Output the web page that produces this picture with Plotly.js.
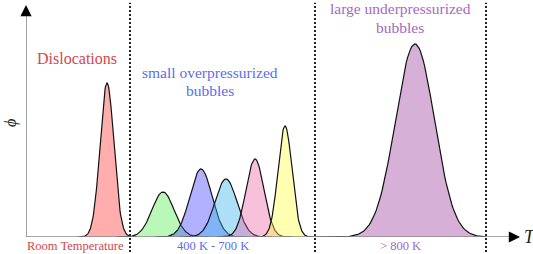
<!DOCTYPE html>
<html><head><meta charset="utf-8">
<script src="https://cdn.plot.ly/plotly-3.0.1.min.js"></script>
<style>html,body{margin:0;padding:0;background:#fff}#chart{width:533px;height:254px}</style>
</head><body><div id="chart"></div>
<script>
// Peak data (schematic distributions), T in arbitrary units
var peakNames   = ["Dislocations", "bubbles 1", "bubbles 2", "bubbles 3", "bubbles 4", "bubbles 5", "large bubbles"];
var peakCenters = [81, 137, 175, 200, 229, 259, 389];
var peakHeights = [154, 45, 68, 58, 78, 111, 193];
var peakWidths  = [6.9, 11, 11, 11, 9, 7, 19.5];
var regionBounds = [104, 289, 460];
var regionTicks  = ["Room Temperature", "400 K - 700 K", "> 800 K"];
var regionTickX  = [49, 187, 374];

var fills = ["rgba(255,60,60,0.42)","rgba(50,235,50,0.34)","rgba(60,60,255,0.40)",
             "rgba(60,180,235,0.42)","rgba(235,90,160,0.38)","rgba(255,255,60,0.40)","rgba(170,90,170,0.48)"];

var traces = [];
for (var i = 0; i < peakCenters.length; i++) {
  var xs = [], ys = [];
  var c = peakCenters[i], s = peakWidths[i], h = peakHeights[i];
  var lo = c - 4.2*s, hi = c + 4.2*s;
  if (i === 6) { lo = regionBounds[1]; hi = regionBounds[2]; }
  var n = 120;
  for (var k = 0; k <= n; k++) {
    var x = lo + (hi - lo) * k / n;
    xs.push(x);
    ys.push(h * Math.exp(-0.5 * Math.pow((x - c) / s, 2)));
  }
  traces.push({x: xs, y: ys, type: 'scatter', mode: 'lines', name: peakNames[i],
    fill: 'tozeroy', fillcolor: fills[i], line: {color: '#111', width: 1.2}, hoverinfo: 'skip'});
}

var shapes = [
  {type:'line', xref:'x', yref:'y', x0:0, x1:484, y0:0, y1:0, line:{color:'#8a8a8a', width:1.6}},
  {type:'line', xref:'x', yref:'y', x0:0, x1:0, y0:0, y1:222, line:{color:'#8a8a8a', width:1.6}}
];
regionBounds.forEach(function(b){
  shapes.push({type:'line', xref:'x', yref:'paper', x0:b, x1:b, y0:-0.065, y1:1.01,
    line:{color:'#222', width:2, dash:'2px,2px'}});
});

var serif = 'Liberation Serif, Times New Roman, serif';
var red = 'rgb(215,70,75)', blue = 'rgb(90,110,240)', purple = 'rgb(165,105,195)';
var tickColors = [red, blue, purple];
var annotations = [
  {x:51, y:179, text:'Dislocations', font:{family:serif, size:16, color:red}},
  {x:184, y:165, text:'small overpressurized', font:{family:serif, size:15.5, color:blue}},
  {x:184, y:147, text:'bubbles', font:{family:serif, size:15.5, color:blue}},
  {x:374, y:229, text:'large underpressurized', font:{family:serif, size:15.5, color:purple}},
  {x:374, y:210, text:'bubbles', font:{family:serif, size:15.5, color:purple}},
  {xref:'paper', yref:'paper', x:-0.029, y:0.49, xanchor:'center', yanchor:'middle', text:'<i>ϕ</i>', textangle:-90, font:{family:serif, size:16, color:'#222'}},
  {xref:'paper', yref:'paper', x:1.02, y:0.0, xanchor:'center', yanchor:'middle', text:'<i>T</i>', font:{family:serif, size:18, color:'#222'}}
];
for (var j = 0; j < regionTicks.length; j++) {
  annotations.push({x:regionTickX[j], yref:'paper', y:-0.04, xanchor:'center', yanchor:'middle', text:regionTicks[j],
    font:{family:serif, size:12.5, color:tickColors[j]}});
}
annotations.forEach(function(a){ a.showarrow = false; });
// axis arrowheads
annotations.push({x:0, y:232, xref:'x', yref:'y', ax:0, ay:12, text:'', showarrow:true,
  arrowhead:2, arrowsize:1.4, arrowwidth:1.6, arrowcolor:'#000', standoff:0});
annotations.push({x:494, y:0, xref:'x', yref:'y', ax:-12, ay:0, text:'', showarrow:true,
  arrowhead:2, arrowsize:1.4, arrowwidth:1.6, arrowcolor:'#000', standoff:0});

var layout = {
  width:533, height:254, margin:{l:26, r:13, t:5, b:17},
  paper_bgcolor:'#fff', plot_bgcolor:'#fff', showlegend:false,
  xaxis:{range:[0,494], visible:false, fixedrange:true},
  yaxis:{range:[0,232], visible:false, fixedrange:true},
  shapes:shapes, annotations:annotations
};
Plotly.newPlot('chart', traces, layout, {staticPlot:true, displayModeBar:false});
</script></body></html>
